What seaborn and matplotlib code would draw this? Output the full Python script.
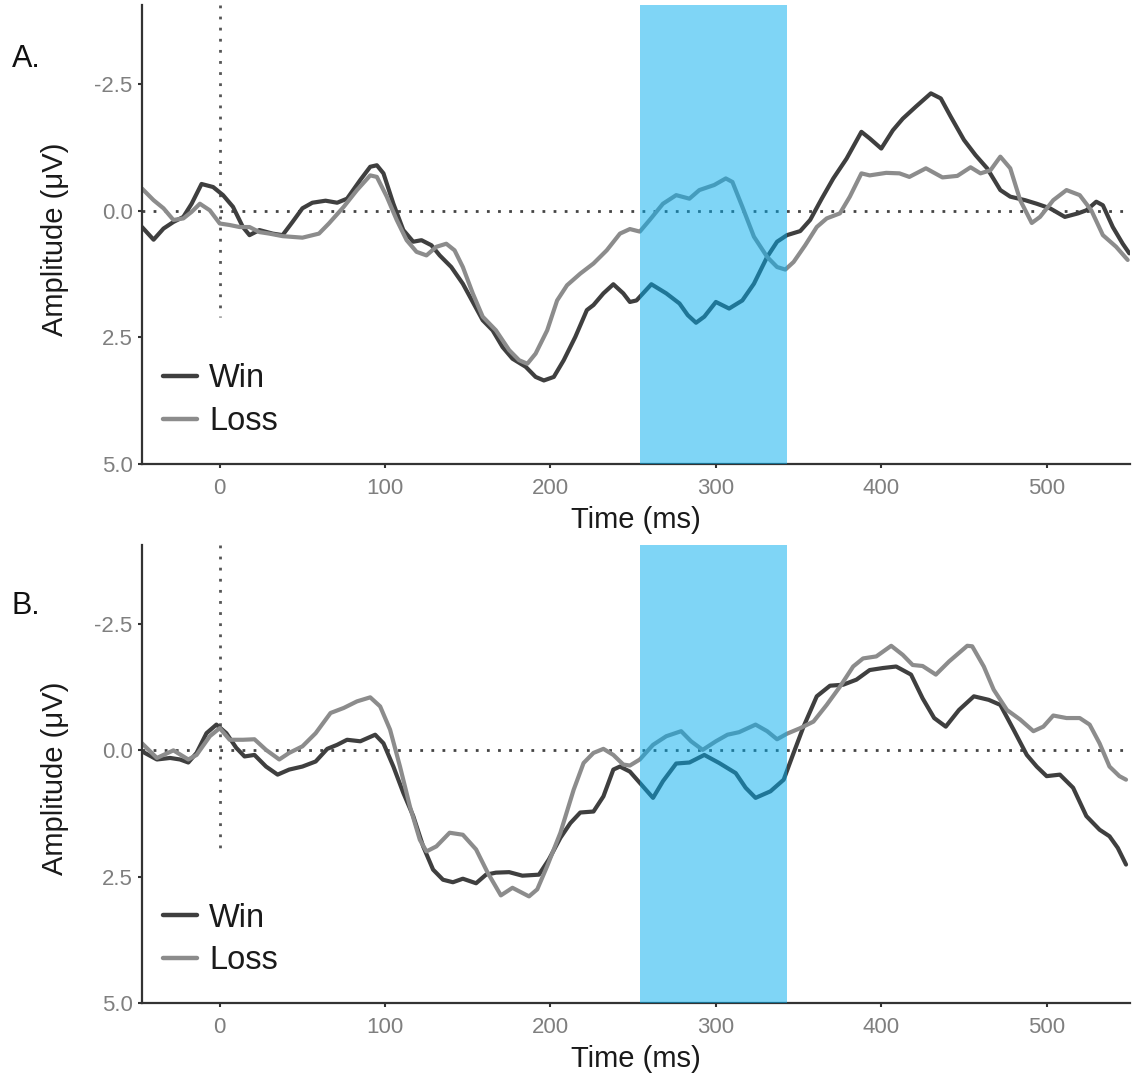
import matplotlib
matplotlib.use("Agg")
import matplotlib.pyplot as plt
import seaborn as sns
import pandas as pd

# ---------------- data ----------------
A_WIN_T = [-47, -40, -34, -28, -22, -17, -11, -4, 2, 8,
           14, 18, 24, 32, 38, 44, 50, 56, 64, 71,
           77, 85, 91, 95, 99, 105, 111, 117, 122, 128,
           133, 140, 147, 153, 159, 165, 171, 177, 185, 191,
           196, 202, 208, 215, 222, 226, 232, 238, 244, 248,
           252, 261, 270, 278, 283, 288, 293, 300, 308, 316,
           323, 331, 337, 343, 351, 357, 364, 371, 379, 388,
           393, 400, 407, 413, 421, 430, 436, 442, 450, 457,
           464, 472, 478, 487, 494, 502, 511, 519, 524, 530,
           534, 540, 546, 550]
A_WIN_V = [0.32, 0.57, 0.35, 0.22, 0.12, -0.14, -0.53, -0.47, -0.31, -0.08,
           0.32, 0.48, 0.38, 0.45, 0.48, 0.22, -0.05, -0.16, -0.20, -0.16,
           -0.24, -0.61, -0.87, -0.90, -0.74, -0.14, 0.38, 0.61, 0.58, 0.68,
           0.88, 1.11, 1.44, 1.80, 2.16, 2.36, 2.69, 2.92, 3.08, 3.28,
           3.35, 3.28, 2.95, 2.49, 1.96, 1.86, 1.63, 1.45, 1.63, 1.80,
           1.77, 1.45, 1.63, 1.83, 2.06, 2.21, 2.09, 1.80, 1.93, 1.77,
           1.44, 0.91, 0.61, 0.48, 0.40, 0.18, -0.24, -0.64, -1.03, -1.56,
           -1.43, -1.23, -1.59, -1.82, -2.06, -2.32, -2.22, -1.86, -1.40, -1.10,
           -0.84, -0.41, -0.28, -0.21, -0.14, -0.05, 0.12, 0.05, -0.01, -0.18,
           -0.11, 0.32, 0.65, 0.84]

A_LOSS_T = [-47, -40, -34, -28, -22, -17, -12, -6, 0, 6,
            12, 18, 24, 30, 38, 50, 60, 66, 75, 83,
            91, 95, 101, 107, 113, 119, 125, 131, 137, 142,
            147, 153, 159, 167, 175, 181, 186, 191, 198, 204,
            210, 218, 226, 234, 242, 248, 254, 260, 268, 276,
            284, 290, 299, 306, 310, 316, 323, 331, 337, 342,
            347, 354, 361, 367, 375, 381, 388, 393, 403, 411,
            417, 427, 437, 446, 454, 460, 466, 472, 478, 484,
            491, 496, 504, 512, 520, 527, 534, 542, 549]
A_LOSS_V = [-0.44, -0.21, -0.05, 0.18, 0.15, 0.02, -0.14, -0.01, 0.25, 0.28,
            0.32, 0.32, 0.42, 0.45, 0.50, 0.53, 0.45, 0.25, -0.08, -0.41,
            -0.70, -0.67, -0.28, 0.18, 0.58, 0.81, 0.88, 0.71, 0.65, 0.78,
            1.11, 1.63, 2.09, 2.36, 2.75, 2.95, 3.02, 2.82, 2.36, 1.77,
            1.47, 1.24, 1.04, 0.78, 0.45, 0.36, 0.41, 0.18, -0.14, -0.31,
            -0.24, -0.41, -0.51, -0.64, -0.57, -0.08, 0.51, 0.91, 1.11, 1.16,
            1.01, 0.68, 0.32, 0.15, 0.05, -0.28, -0.74, -0.70, -0.75, -0.74,
            -0.67, -0.84, -0.66, -0.69, -0.86, -0.74, -0.80, -1.07, -0.84, -0.21,
            0.24, 0.12, -0.21, -0.41, -0.31, -0.01, 0.48, 0.71, 0.97]

B_WIN_T = [-47, -38, -30, -24, -19, -14, -8, -2, 4, 10,
           15, 21, 28, 35, 42, 50, 58, 65, 71, 77,
           85, 94, 99, 105, 111, 117, 123, 129, 135, 141,
           147, 155, 161, 167, 175, 183, 193, 199, 206, 212,
           218, 226, 232, 238, 242, 248, 255, 262, 268, 276,
           284, 293, 302, 312, 318, 324, 333, 341, 347, 353,
           361, 369, 377, 385, 393, 401, 409, 418, 425, 432,
           439, 447, 456, 465, 472, 480, 488, 494, 500, 508,
           516, 524, 532, 538, 543, 548]
B_WIN_V = [0.02, 0.18, 0.15, 0.18, 0.24, 0.05, -0.34, -0.51, -0.34, -0.05,
           0.12, 0.09, 0.32, 0.48, 0.38, 0.32, 0.22, -0.03, -0.11, -0.21,
           -0.18, -0.31, -0.14, 0.32, 0.84, 1.30, 1.90, 2.36, 2.56, 2.61,
           2.54, 2.63, 2.46, 2.42, 2.41, 2.48, 2.46, 2.16, 1.73, 1.44,
           1.23, 1.21, 0.91, 0.38, 0.32, 0.42, 0.68, 0.94, 0.61, 0.26,
           0.24, 0.09, 0.25, 0.45, 0.74, 0.94, 0.81, 0.58, 0.05, -0.47,
           -1.07, -1.28, -1.30, -1.40, -1.59, -1.63, -1.66, -1.50, -1.03, -0.64,
           -0.47, -0.80, -1.07, -1.00, -0.90, -0.41, 0.09, 0.32, 0.51, 0.48,
           0.74, 1.30, 1.57, 1.70, 1.93, 2.26]

B_LOSS_T = [-47, -38, -28, -19, -14, -6, 0, 6, 14, 21,
            28, 36, 42, 50, 58, 67, 75, 83, 91, 97,
            103, 109, 115, 121, 125, 131, 139, 147, 155, 162,
            170, 177, 187, 192, 198, 206, 214, 220, 226, 232,
            238, 244, 248, 254, 262, 270, 279, 285, 292, 300,
            307, 314, 324, 331, 337, 343, 351, 359, 367, 375,
            383, 389, 397, 406, 413, 419, 425, 433, 441, 452,
            455, 462, 468, 476, 484, 492, 498, 504, 512, 520,
            526, 532, 538, 544, 548]
B_LOSS_V = [-0.14, 0.15, 0.00, 0.18, 0.09, -0.28, -0.44, -0.21, -0.21, -0.22,
            -0.01, 0.18, 0.05, -0.08, -0.34, -0.74, -0.84, -0.97, -1.05, -0.87,
            -0.41, 0.32, 1.11, 1.77, 2.00, 1.90, 1.63, 1.67, 1.96, 2.42,
            2.87, 2.72, 2.89, 2.75, 2.29, 1.63, 0.78, 0.25, 0.05, -0.03,
            0.09, 0.28, 0.30, 0.18, -0.11, -0.28, -0.38, -0.18, -0.01, -0.18,
            -0.31, -0.36, -0.51, -0.38, -0.22, -0.33, -0.44, -0.57, -0.90, -1.26,
            -1.66, -1.82, -1.86, -2.07, -1.89, -1.69, -1.67, -1.50, -1.76, -2.07,
            -2.06, -1.66, -1.20, -0.80, -0.61, -0.38, -0.47, -0.69, -0.64, -0.64,
            -0.51, -0.14, 0.32, 0.51, 0.58]

CONDITIONS = ["Win", "Loss"]
PANEL_LABELS = ["A.", "B."]
X_TICKS = [0, 100, 200, 300, 400, 500]
Y_TICKS = [-2.5, 0.0, 2.5, 5.0]
WINDOW = (254, 343)
BASELINE_END = 2.1

# ---------------- style ----------------
sns.set_style("white")
plt.rcParams["font.family"] = ["Liberation Sans", "DejaVu Sans"]

PALETTE = {"Win": "#3f3f3f", "Loss": "#8c8c8c"}
SPINE = "#333333"
TICKLAB = "#7f7f7f"

fig = plt.figure(figsize=(11.34, 10.8), dpi=100)
W, H = 1134.0, 1080.0
axA = fig.add_axes([142 / W, 1 - 464 / H, (1130 - 142) / W, (464 - 5) / H])
axB = fig.add_axes([142 / W, 1 - 1003 / H, (1130 - 142) / W, (1003 - 545) / H])


def make_df(wt, wv, lt, lv):
    d1 = pd.DataFrame({"time": wt, "amp": wv, "cond": CONDITIONS[0]})
    d2 = pd.DataFrame({"time": lt, "amp": lv, "cond": CONDITIONS[1]})
    return pd.concat([d1, d2], ignore_index=True)


panels = [
    (axA, make_df(A_WIN_T, A_WIN_V, A_LOSS_T, A_LOSS_V), PANEL_LABELS[0], 67),
    (axB, make_df(B_WIN_T, B_WIN_V, B_LOSS_T, B_LOSS_V), PANEL_LABELS[1], 614),
]

for ax, df, lab, lab_y in panels:
    ax.set_xlim(-47, 550.4)
    ax.set_ylim(5.0, -4.065)
    # reference lines
    ax.axhline(0, color="#444444", lw=2.0, ls=(0, (1, 3)), zorder=1)
    ax.plot([0, 0], [-4.065, BASELINE_END], color="#555555", lw=2.0,
            ls=(0, (1, 3)), zorder=1)
    sns.lineplot(data=df, x="time", y="amp", hue="cond", hue_order=CONDITIONS,
                 palette=PALETTE, estimator=None, sort=False, lw=3.0, ax=ax,
                 zorder=2)
    for ln in ax.get_lines()[2:]:
        ln.set_solid_joinstyle("round")
        ln.set_solid_capstyle("round")
    ax.axvspan(WINDOW[0], WINDOW[1], color="#00ADEF", alpha=0.5, lw=0, zorder=3)

    handles, labels = ax.get_legend_handles_labels()
    leg = ax.legend(handles[-2:], labels[-2:], loc="upper left",
                    bbox_to_anchor=(0.021, 0.219), borderaxespad=0, borderpad=0,
                    frameon=False, fontsize=23.5, handlelength=1.06,
                    handletextpad=0.36, labelspacing=0.36)
    for h in leg.get_lines():
        h.set_linewidth(3.2)
    for t in leg.get_texts():
        t.set_color("#1a1a1a")

    for s in ["top", "right"]:
        ax.spines[s].set_visible(False)
    for s in ["left", "bottom"]:
        ax.spines[s].set_color(SPINE)
        ax.spines[s].set_linewidth(1.6)

    ax.set_xticks(X_TICKS)
    ax.set_xticklabels([str(v) for v in X_TICKS])
    ax.set_yticks(Y_TICKS)
    ax.set_yticklabels([f"{v:.1f}" for v in Y_TICKS])
    ax.tick_params(axis="both", which="major", length=3.2, width=1.5,
                   color=SPINE, labelcolor=TICKLAB, labelsize=16,
                   bottom=True, left=True)
    ax.tick_params(axis="x", pad=7)
    ax.tick_params(axis="y", pad=3.5)

    ax.set_xlabel("Time (ms)", fontsize=21, color="#1a1a1a")
    ax.set_ylabel("Amplitude (μV)", fontsize=21, color="#1a1a1a")
    ax.xaxis.label.set_va("center")
    ax.yaxis.label.set_va("center")
    ax.xaxis.set_label_coords(0.5, -56 / 459)
    ax.yaxis.set_label_coords(-87 / 988, 0.49)
    ax.set_facecolor("white")

    fig.text(12 / W, 1 - lab_y / H, lab, fontsize=22, color="#111111",
             ha="left", va="baseline")

fig.savefig("out.png", dpi=100, facecolor="white")
